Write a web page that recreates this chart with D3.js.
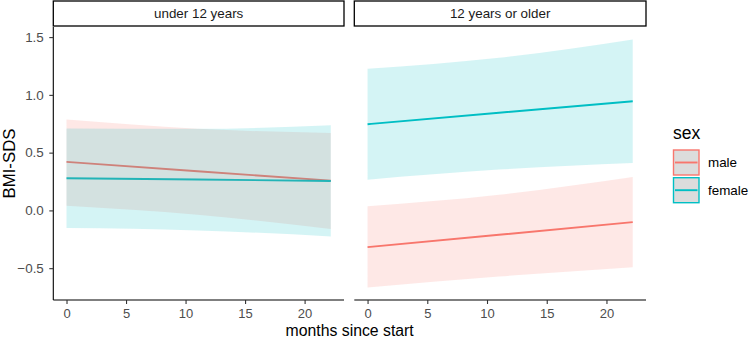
<!DOCTYPE html>
<html>
<head>
<meta charset="utf-8">
<script src="https://cdn.jsdelivr.net/npm/d3@7"></script>
<style>
  html, body { margin: 0; padding: 0; background: #fff; }
  svg { display: block; font-family: "Liberation Sans", Arial, Helvetica, sans-serif; }
</style>
</head>
<body>
<svg id="chart" width="749" height="339"></svg>
<script>
// ---- data ----
const panels = ["under 12 years", "12 years or older"];
const sexes = ["male", "female"];
const colors = ["#F8766D", "#00BFC4"];
const months = [0, 11, 22.2];
const xTicks = [0, 5, 10, 15, 20];
const yTicks = [-0.5, 0.0, 0.5, 1.0, 1.5];

// under 12 years
const u12MaleFit   = [0.420, 0.339, 0.258];
const u12MaleLow   = [0.041, -0.037, -0.161];
const u12MaleHigh  = [0.786, 0.706, 0.671];
const u12FemaleFit = [0.278, 0.267, 0.255];
const u12FemaleLow = [-0.153, -0.173, -0.225];
const u12FemaleHigh= [0.709, 0.706, 0.737];
// 12 years or older
const o12MaleFit   = [-0.318, -0.211, -0.101];
const o12MaleLow   = [-0.668, -0.572, -0.491];
const o12MaleHigh  = [0.035, 0.136, 0.290];
const o12FemaleFit = [0.746, 0.845, 0.945];
const o12FemaleLow = [0.266, 0.353, 0.411];
const o12FemaleHigh= [1.226, 1.322, 1.480];

const seriesByPanel = [
  [ {sex: "male", fit: u12MaleFit, low: u12MaleLow, high: u12MaleHigh},
    {sex: "female", fit: u12FemaleFit, low: u12FemaleLow, high: u12FemaleHigh} ],
  [ {sex: "male", fit: o12MaleFit, low: o12MaleLow, high: o12MaleHigh},
    {sex: "female", fit: o12FemaleFit, low: o12FemaleLow, high: o12FemaleHigh} ]
];

// ---- layout ----
const svg = d3.select("#chart");
const color = d3.scaleOrdinal().domain(sexes).range(colors);
const panelX = [[53.3, 344], [354.3, 646]];
const panelTop = 27, panelBottom = 300;
const stripTop = 1;

const xPad = 22.2 * 0.05;
const allVals = [].concat(u12MaleLow, u12MaleHigh, u12FemaleLow, u12FemaleHigh, o12MaleLow, o12MaleHigh, o12FemaleLow, o12FemaleHigh);
const yMin = d3.min(allVals), yMax = d3.max(allVals);
const yPad = (yMax - yMin) * 0.05;
const y = d3.scaleLinear().domain([yMin - yPad, yMax + yPad]).range([panelBottom, panelTop]);

const tickCol = "#4d4d4d";

panels.forEach((pname, pi) => {
  const [x0, x1] = panelX[pi];
  const x = d3.scaleLinear().domain([months[0] - xPad, months[months.length - 1] + xPad]).range([x0, x1]);
  const g = svg.append("g");

  const line = d3.line().x((d, i) => x(months[i])).y(d => y(d)).curve(d3.curveMonotoneX);
  const area = d3.area()
    .x((d, i) => x(months[i]))
    .y0(d => y(d[0]))
    .y1(d => y(d[1]))
    .curve(d3.curveMonotoneX);

  const series = seriesByPanel[pi];
  // lines
  series.forEach(s => {
    g.append("path").datum(s.fit)
      .attr("d", line)
      .attr("fill", "none")
      .attr("stroke", color(s.sex))
      .attr("stroke-width", 1.9);
  });
  // ribbons
  series.forEach(s => {
    const pts = s.low.map((v, i) => [v, s.high[i]]);
    g.append("path").datum(pts)
      .attr("d", area)
      .attr("fill", color(s.sex))
      .attr("fill-opacity", 0.17)
      .attr("stroke", "none");
  });

  // x axis
  const xa = g.append("g").attr("transform", `translate(0,${panelBottom})`)
    .call(d3.axisBottom(x).tickValues(xTicks).tickFormat(d3.format("d")).tickSize(4).tickSizeOuter(0).tickPadding(4.5));
  xa.select(".domain").attr("stroke", "#000").attr("stroke-width", 1.1).attr("d", `M${x0},0H${x1}`);
  xa.selectAll(".tick line").attr("stroke", "#333").attr("stroke-width", 1.1);
  xa.selectAll(".tick text").attr("fill", tickCol).style("font-size", "13px").style("font-family", "Liberation Sans, Arial, sans-serif");

  // y axis only for the first panel
  if (pi === 0) {
    const ya = g.append("g").attr("transform", `translate(${x0},0)`)
      .call(d3.axisLeft(y).tickValues(yTicks).tickFormat(d3.format(".1f")).tickSize(4).tickSizeOuter(0).tickPadding(5.5));
    ya.select(".domain").attr("stroke", "#000").attr("stroke-width", 1.1).attr("d", `M0,${panelTop}V${panelBottom}`);
    ya.selectAll(".tick line").attr("stroke", "#333").attr("stroke-width", 1.1);
    ya.selectAll(".tick text").attr("fill", tickCol).style("font-size", "13.4px").style("font-family", "Liberation Sans, Arial, sans-serif");
  }

  // strip
  g.append("rect").attr("x", x0).attr("y", stripTop).attr("width", x1 - x0).attr("height", panelTop - stripTop - 1)
    .attr("fill", "#fff").attr("stroke", "#000").attr("stroke-width", 1.3);
  g.append("text").attr("x", (x0 + x1) / 2).attr("y", (stripTop + panelTop - 1) / 2)
    .attr("text-anchor", "middle").attr("dominant-baseline", "central")
    .attr("fill", "#1a1a1a").style("font-size", "13.4px").text(pname);
});

// axis titles
svg.append("text").attr("x", (panelX[0][0] + panelX[1][1]) / 2).attr("y", 335.5)
  .attr("text-anchor", "middle").attr("fill", "#000").style("font-size", "15.8px").text("months since start");
svg.append("text").attr("transform", `translate(15,${(panelTop + panelBottom) / 2}) rotate(-90)`)
  .attr("text-anchor", "middle").attr("fill", "#000").style("font-size", "16.8px").text("BMI-SDS");

// legend
const lg = svg.append("g");
lg.append("text").attr("x", 673).attr("y", 139).attr("fill", "#000").style("font-size", "17.5px").text("sex");
sexes.forEach((s, i) => {
  const ky = 150 + i * 27.7;
  lg.append("rect").attr("x", 673.5).attr("y", ky).attr("width", 25.5).attr("height", 25)
    .attr("fill", "#dcdcdc").attr("stroke", color(s)).attr("stroke-width", 1.4);
  lg.append("line").attr("x1", 675).attr("x2", 697.5).attr("y1", ky + 12.5).attr("y2", ky + 12.5)
    .attr("stroke", color(s)).attr("stroke-width", 1.9);
  lg.append("text").attr("x", 708).attr("y", ky + 12.5).attr("dominant-baseline", "central")
    .attr("fill", "#000").style("font-size", "13.4px").text(s);
});
</script>
</body>
</html>
